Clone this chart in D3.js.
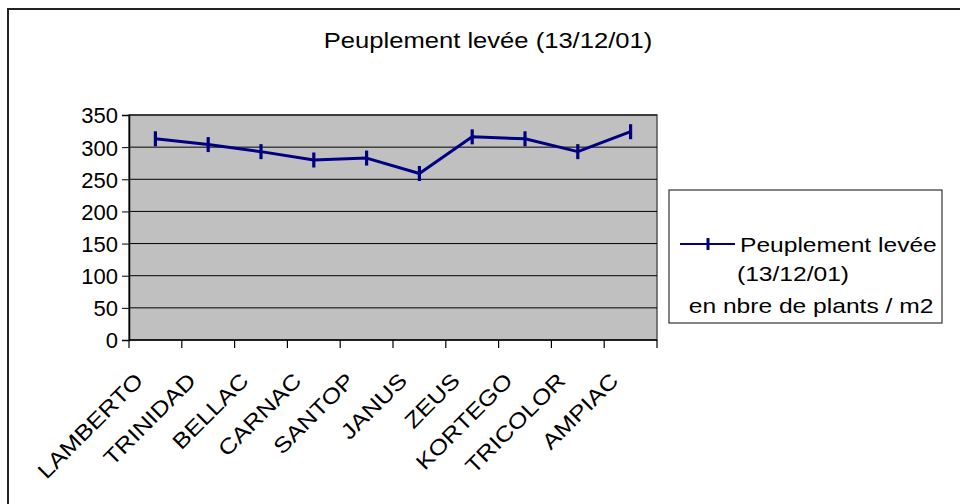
<!DOCTYPE html>
<html><head><meta charset="utf-8">
<script src="https://cdn.jsdelivr.net/npm/d3@7"></script>
<style>
html,body{margin:0;padding:0;background:#fff;}
text{font-family:"Liberation Sans",Arial,sans-serif;fill:#000;}
</style></head>
<body><svg id="c" width="960" height="504"></svg>
<script>
const categories = ["LAMBERTO","TRINIDAD","BELLAC","CARNAC","SANTOP","JANUS","ZEUS","KORTEGO","TRICOLOR","AMPIAC"];
const values = [313, 304, 293, 280, 283, 259, 316, 313, 293, 324];
const yTicks = [0, 50, 100, 150, 200, 250, 300, 350];
const title = "Peuplement levée (13/12/01)";
const legendLines = ["Peuplement levée", "(13/12/01)", "en nbre de plants / m2"];

const svg = d3.select("#c");
// outer frame
svg.append("rect").attr("x",8).attr("y",9).attr("width",960).attr("height",520)
  .attr("fill","#fff").attr("stroke","#222").attr("stroke-width",2);

const L=129, R=657, T=115, B=340;
const x = d3.scaleBand().domain(categories).range([L,R]);
const y = d3.scaleLinear().domain([0,350]).range([B,T]);

svg.append("rect").attr("x",L).attr("y",T).attr("width",R-L).attr("height",B-T)
  .attr("fill","#c0c0c0").attr("stroke","#555").attr("stroke-width",1.5);

// gridlines
svg.append("g").selectAll("line").data(yTicks.slice(1)).join("line")
  .attr("x1",L).attr("x2",R).attr("y1",d=>y(d)).attr("y2",d=>y(d))
  .attr("stroke","#000").attr("stroke-width",1);

// y axis
const ya = svg.append("g").attr("transform",`translate(${L},0)`)
  .call(d3.axisLeft(y).tickValues(yTicks).tickSize(7).tickPadding(4));
ya.select(".domain").attr("stroke","#000").attr("stroke-width",1.5);
ya.selectAll(".tick line").attr("stroke","#000");
ya.selectAll("text").attr("font-size",22).attr("dy","0.36em").attr("font-family","Liberation Sans, Arial, sans-serif").attr("fill","#000");

// x axis
const xTickPos = categories.map((c,i)=>L + i*x.bandwidth()).concat([R]);
svg.append("line").attr("x1",L).attr("x2",R).attr("y1",B).attr("y2",B).attr("stroke","#000").attr("stroke-width",1.5);
svg.append("g").selectAll("line").data(xTickPos).join("line")
  .attr("x1",d=>d).attr("x2",d=>d).attr("y1",B).attr("y2",B+8).attr("stroke","#000").attr("stroke-width",1.2);
svg.append("g").selectAll("text").data(categories).join("text")
  .attr("transform",d=>`translate(${x(d)+x.bandwidth()/2-11},${B+42}) rotate(-45) scale(1.18,1)`)
  .attr("text-anchor","end").attr("font-size",21.5).text(d=>d);

// line
const navy = "#000080";
const line = d3.line().x((d,i)=>x(categories[i])+x.bandwidth()/2).y(d=>y(d));
svg.append("path").datum(values).attr("d",line).attr("fill","none")
  .attr("stroke",navy).attr("stroke-width",3).attr("stroke-linejoin","round");
svg.append("g").selectAll("line").data(values).join("line")
  .attr("x1",(d,i)=>x(categories[i])+x.bandwidth()/2).attr("x2",(d,i)=>x(categories[i])+x.bandwidth()/2)
  .attr("y1",d=>y(d)-7.5).attr("y2",d=>y(d)+7.5).attr("stroke",navy).attr("stroke-width",3.2);

// title
svg.append("text").attr("transform","translate(488,48) scale(1.19,1)").attr("text-anchor","middle").attr("font-size",21.5).text(title);

// legend
svg.append("rect").attr("x",669).attr("y",190).attr("width",273).attr("height",133)
  .attr("fill","#fff").attr("stroke","#333").attr("stroke-width",1.2);
svg.append("line").attr("x1",680).attr("x2",735).attr("y1",244).attr("y2",244).attr("stroke",navy).attr("stroke-width",2);
svg.append("line").attr("x1",708).attr("x2",708).attr("y1",238).attr("y2",250).attr("stroke",navy).attr("stroke-width",3);
svg.append("text").attr("transform","translate(740,252) scale(1.2,1)").attr("font-size",20.5).text(legendLines[0]);
svg.append("text").attr("transform","translate(737,281) scale(1.2,1)").attr("font-size",20.5).text(legendLines[1]);
svg.append("text").attr("transform","translate(811,313) scale(1.2,1)").attr("text-anchor","middle").attr("font-size",20.5).text(legendLines[2]);
</script></body></html>
